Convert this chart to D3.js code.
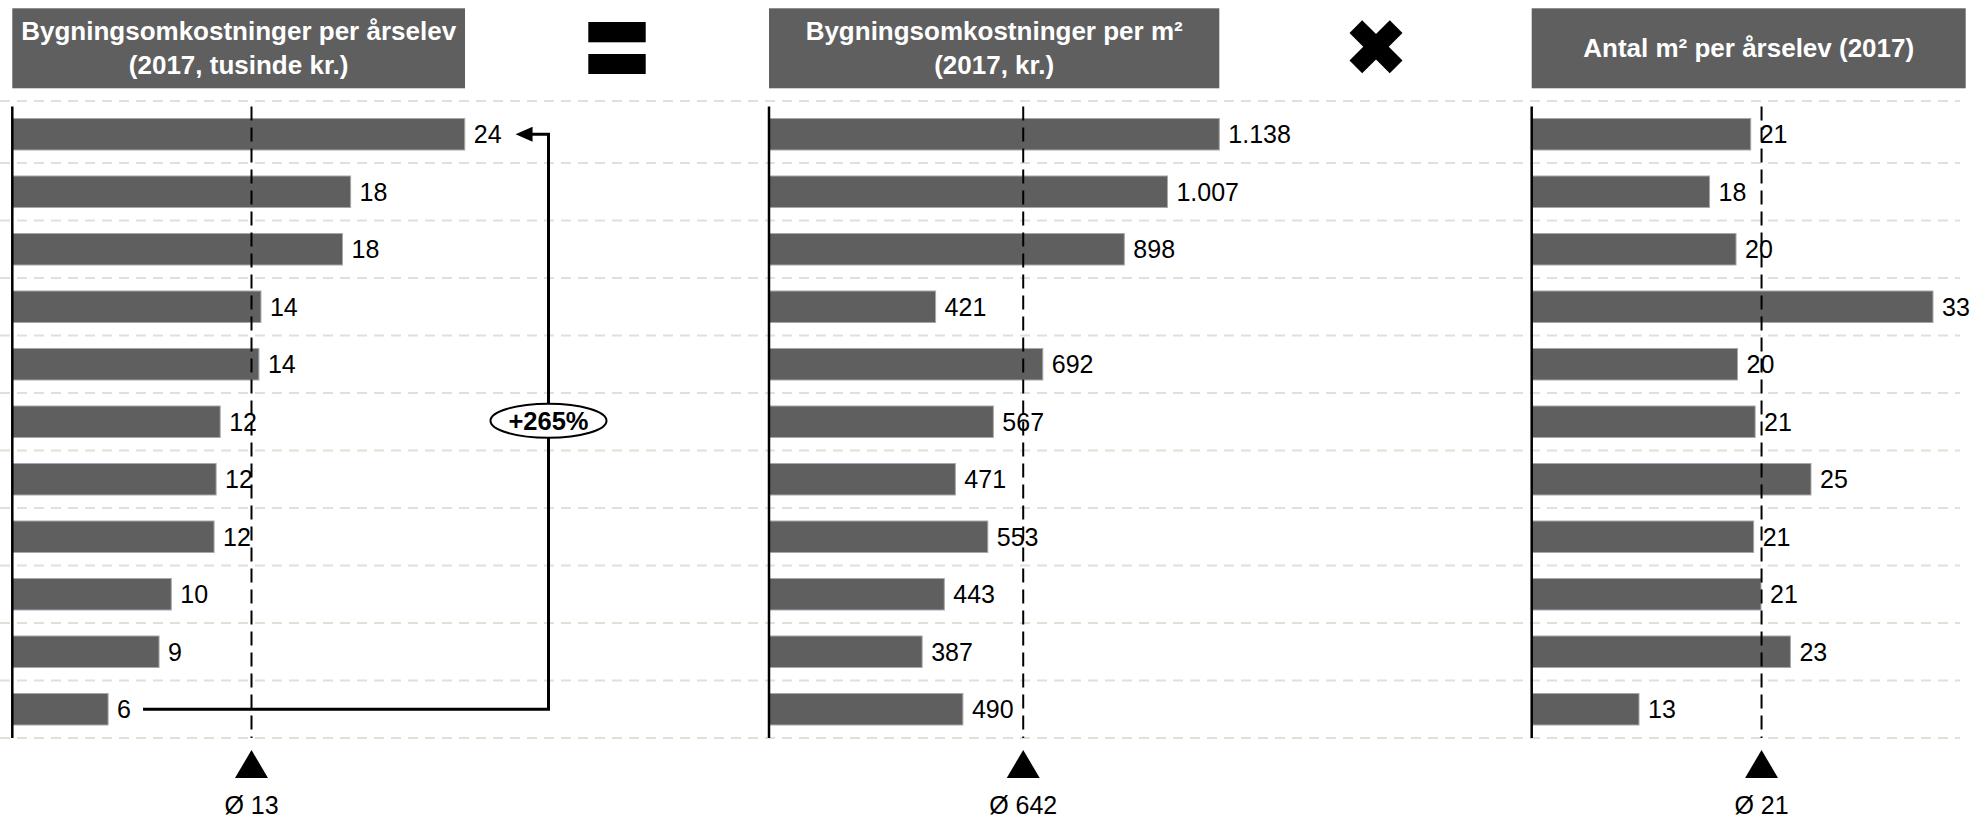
<!DOCTYPE html>
<html><head><meta charset="utf-8">
<script src="https://cdn.jsdelivr.net/npm/d3@7"></script>
<style>
body{margin:0;background:#fff}
svg{display:block;font-family:"Liberation Sans",Arial,Helvetica,sans-serif}
</style>
</head><body>
<svg id="c" width="1973" height="818"></svg>
<script>
// ---- data (bar values; labels are these values rounded) ----
const categories = ["1","2","3","4","5","6","7","8","9","10","11"];
const costPerStudent = [23.9, 18.3, 17.9, 13.9, 13.8, 11.9, 11.7, 11.6, 9.5, 8.9, 6.4];   // tusinde kr.
const costPerM2      = [1138, 1007, 898, 421, 692, 567, 471, 553, 443, 387, 490];        // kr.
const m2PerStudent   = [20.6, 17.8, 19.6, 33.0, 19.7, 20.9, 24.7, 20.8, 21.3, 23.3, 13.0]; // m²
const titles = [
  ["Bygningsomkostninger per årselev", "(2017, tusinde kr.)"],
  ["Bygningsomkostninger per m²", "(2017, kr.)"],
  ["Antal m² per årselev (2017)"]
];
const spreadLabel = "+265%";

// ---- layout ----
const svg = d3.select("#c");
const dk = d3.formatLocale({decimal: ",", thousands: ".", grouping: [3], currency: ["", " kr."]});
const fmtInt = dk.format(",.0f");

const y = d3.scaleBand().domain(categories).range([105.5, 738])
  .paddingInner(0.452).paddingOuter(0.226);

const panels = [
  {values: costPerStudent, title: titles[0], x0: 12.3, boxW: 452.7,
   scale: d3.scaleLinear().domain([1.7, 24]).range([0, 454.5])},
  {values: costPerM2, title: titles[1], x0: 769, boxW: 450.3,
   scale: d3.scaleLinear().domain([0, 1138]).range([0, 450.3])},
  {values: m2PerStudent, title: titles[2], x0: 1531.7, boxW: 434,
   scale: d3.scaleLinear().domain([5.7, 33]).range([0, 401.3])}
];

// grid lines
const gridG = svg.append("g");
d3.range(categories.length + 1).forEach(i => {
  const gy = i === 0 ? 101 : y.range()[0] + i * y.step();
  gridG.append("line").attr("x1", 0).attr("x2", 1960).attr("y1", gy).attr("y2", gy)
    .attr("stroke", "#e4dfd5").attr("stroke-width", 2).attr("stroke-dasharray", "10,7");
});

const axisTop = 106.5, axisBottom = 738;
const labelNodes = [];

panels.forEach((p, pi) => {
  const g = svg.append("g").attr("transform", `translate(${p.x0},0)`);
  // header box
  g.append("rect").attr("x", 0).attr("y", 8.3).attr("width", p.boxW).attr("height", 80)
    .attr("fill", "#5f5f5f");
  const cy = p.title.length === 1 ? [48.3] : [31, 65];
  p.title.forEach((t, ti) => {
    g.append("text").attr("x", p.boxW / 2).attr("y", cy[ti])
      .attr("text-anchor", "middle").attr("dominant-baseline", "central")
      .attr("fill", "#fff").attr("font-weight", "bold").attr("font-size", 26).text(t);
  });
  // bars
  g.selectAll("rect.bar").data(p.values).join("rect").attr("class", "bar")
    .attr("x", 0).attr("y", (d, i) => y(categories[i]))
    .attr("width", d => p.scale(d)).attr("height", y.bandwidth())
    .attr("fill", "#5f5f5f").attr("stroke", "#a8a8a8").attr("stroke-width", 1);
  // value labels
  const lbl = g.selectAll("text.val").data(p.values).join("text").attr("class", "val")
    .attr("x", d => p.scale(d) + 9).attr("y", (d, i) => y(categories[i]) + y.bandwidth() / 2)
    .attr("dominant-baseline", "central").attr("font-size", 25).attr("fill", "#000")
    .text(d => fmtInt(d));
  labelNodes.push(lbl.nodes());
  // axis line
  g.append("line").attr("x1", 0).attr("x2", 0).attr("y1", axisTop).attr("y2", axisBottom)
    .attr("stroke", "#000").attr("stroke-width", 2.5);
  // average line
  const avg = d3.mean(p.values);
  const ax = p.scale(avg);
  g.append("line").attr("x1", ax).attr("x2", ax).attr("y1", axisTop).attr("y2", axisBottom)
    .attr("stroke", "#000").attr("stroke-width", 2).attr("stroke-dasharray", "14,7");
  g.append("path").attr("d", `M${ax - 16.5},778 L${ax + 16.5},778 L${ax},750 Z`).attr("fill", "#000");
  g.append("text").attr("x", ax).attr("y", 814).attr("text-anchor", "middle")
    .attr("font-size", 25).attr("fill", "#000").text("Ø " + fmtInt(avg));
});

// operators
svg.append("rect").attr("x", 588.3).attr("y", 22).attr("width", 57.4).attr("height", 20.3).attr("fill", "#000");
svg.append("rect").attr("x", 588.3).attr("y", 54).attr("width", 57.4).attr("height", 20).attr("fill", "#000");
const xg = svg.append("g").attr("transform", "translate(1376,46.7)");
[45, -45].forEach(a => {
  xg.append("rect").attr("x", -28.5).attr("y", -9).attr("width", 57).attr("height", 18)
    .attr("transform", `rotate(${a})`).attr("fill", "#000");
});

// annotation in panel 1: spread between highest and lowest
const p1 = panels[0];
const iTop = 0, iBot = categories.length - 1;
const yTop = y(categories[iTop]) + y.bandwidth() / 2;
const yBot = y(categories[iBot]) + y.bandwidth() / 2;
const topLabelEnd = p1.x0 + p1.scale(p1.values[iTop]) + 9 + labelNodes[0][iTop].getComputedTextLength();
const botLabelEnd = p1.x0 + p1.scale(p1.values[iBot]) + 9 + labelNodes[0][iBot].getComputedTextLength();
const vx = 548.5;
const tipX = topLabelEnd + 14;
svg.append("path")
  .attr("d", `M${botLabelEnd + 12},${yBot} H${vx} V${yTop} H${tipX + 16}`)
  .attr("fill", "none").attr("stroke", "#000").attr("stroke-width", 3);
svg.append("path").attr("d", `M${tipX},${yTop} L${tipX + 17},${yTop - 7.5} L${tipX + 17},${yTop + 7.5} Z`)
  .attr("fill", "#000");
const ey = y(categories[5]) + y.bandwidth() / 2 - 1;
svg.append("ellipse").attr("cx", vx).attr("cy", ey).attr("rx", 58).attr("ry", 17)
  .attr("fill", "#fff").attr("stroke", "#000").attr("stroke-width", 2);
svg.append("text").attr("x", vx).attr("y", ey).attr("text-anchor", "middle")
  .attr("dominant-baseline", "central").attr("font-weight", "bold").attr("font-size", 25.5)
  .text(spreadLabel);
</script>
</body></html>
